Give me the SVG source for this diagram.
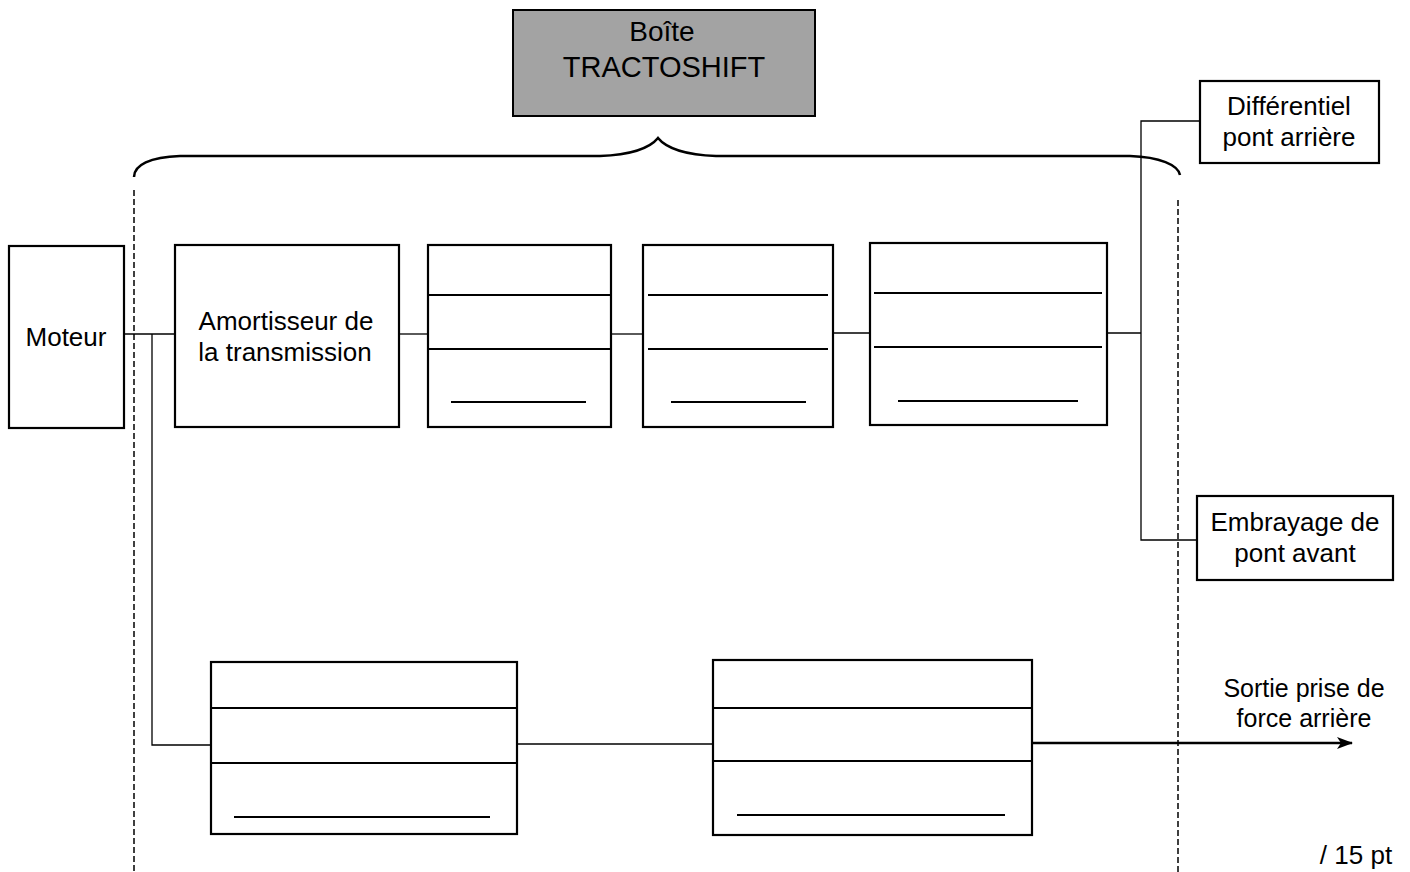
<svg xmlns="http://www.w3.org/2000/svg" width="1410" height="872" viewBox="0 0 1410 872">
<style>
.box{fill:#fff;stroke:#000;stroke-width:2.2}
.div{stroke:#000;stroke-width:2}
.con{fill:none;stroke:#000;stroke-width:1.3}
.dash{fill:none;stroke:#000;stroke-width:1.5;stroke-dasharray:6,3}
text{font-family:"Liberation Sans",Arial,sans-serif;font-size:26px;fill:#000;text-anchor:middle}
</style>
<defs>
<marker id="arr" markerWidth="16" markerHeight="14" refX="15" refY="7" orient="auto" markerUnits="userSpaceOnUse">
<path d="M0,1 L16,7 L0,13 L4,7 Z" fill="#000"/>
</marker>
</defs>
<rect width="1410" height="872" fill="#fff"/>
<g id="boite">
<rect x="513" y="10" width="302" height="106" fill="#a3a3a3" stroke="#000" stroke-width="2"/>
<text x="662" y="41" style="font-size:28px">Boîte</text>
<text x="664" y="77" style="font-size:29px">TRACTOSHIFT</text>
</g>
<g id="brace">
<path d="M134,177 C134,165 150,157 180,156 L600,156 C630,155 650,148 658,138 C666,148 686,155 716,156 L1130,156 C1160,157 1178,165 1180,175" fill="none" stroke="#000" stroke-width="2.5"/>
</g>
<g id="connectors">
<line class="dash" x1="134" y1="190" x2="134" y2="872"/>
<line class="dash" x1="1178" y1="200" x2="1178" y2="872"/>
<line class="con" x1="124" y1="334" x2="175" y2="334"/>
<polyline class="con" points="152,334 152,745 212,745"/>
<line class="con" x1="399" y1="334" x2="428" y2="334"/>
<line class="con" x1="611" y1="334" x2="643" y2="334"/>
<line class="con" x1="833" y1="333" x2="870" y2="333"/>
<line class="con" x1="1107" y1="333" x2="1141" y2="333"/>
<polyline class="con" points="1200,121 1141,121 1141,540 1197,540"/>
<line class="con" x1="517" y1="744" x2="713" y2="744"/>
<line x1="1032" y1="743" x2="1352" y2="743" stroke="#000" stroke-width="2.5" marker-end="url(#arr)"/>
</g>
<g id="moteur">
<rect class="box" x="9" y="246" width="115" height="182"/>
<text x="66" y="346">Moteur</text>
</g>
<g id="amortisseur">
<rect class="box" x="175" y="245" width="224" height="182"/>
<text x="286" y="330">Amortisseur de</text>
<text x="285" y="361">la transmission</text>
</g>
<g id="bloc1">
<rect class="box" x="428" y="245" width="183" height="182"/>
<line class="div" x1="428" y1="295" x2="611" y2="295"/>
<line class="div" x1="428" y1="349" x2="611" y2="349"/>
<line class="div" x1="451" y1="402" x2="586" y2="402"/>
</g>
<g id="bloc2">
<rect class="box" x="643" y="245" width="190" height="182"/>
<line class="div" x1="648" y1="295" x2="828" y2="295"/>
<line class="div" x1="648" y1="349" x2="828" y2="349"/>
<line class="div" x1="671" y1="402" x2="806" y2="402"/>
</g>
<g id="bloc3">
<rect class="box" x="870" y="243" width="237" height="182"/>
<line class="div" x1="874" y1="293" x2="1102" y2="293"/>
<line class="div" x1="874" y1="347" x2="1102" y2="347"/>
<line class="div" x1="898" y1="401" x2="1078" y2="401"/>
</g>
<g id="differentiel">
<rect class="box" x="1200" y="81" width="179" height="82"/>
<text x="1289" y="115">Différentiel</text>
<text x="1289" y="146">pont arrière</text>
</g>
<g id="embrayage">
<rect class="box" x="1197" y="496" width="196" height="84"/>
<text x="1295" y="531">Embrayage de</text>
<text x="1295" y="562">pont avant</text>
</g>
<g id="bloc4">
<rect class="box" x="211" y="662" width="306" height="172"/>
<line class="div" x1="211" y1="708" x2="517" y2="708"/>
<line class="div" x1="211" y1="763" x2="517" y2="763"/>
<line class="div" x1="234" y1="817" x2="490" y2="817"/>
</g>
<g id="bloc5">
<rect class="box" x="713" y="660" width="319" height="175"/>
<line class="div" x1="713" y1="708" x2="1032" y2="708"/>
<line class="div" x1="713" y1="761" x2="1032" y2="761"/>
<line class="div" x1="737" y1="815" x2="1005" y2="815"/>
</g>
<g id="sortie">
<text x="1304" y="697" style="font-size:25px">Sortie prise de</text>
<text x="1304" y="727" style="font-size:25px">force arrière</text>
</g>
<text x="1356" y="864" style="font-size:26px">/ 15 pt</text>
</svg>
